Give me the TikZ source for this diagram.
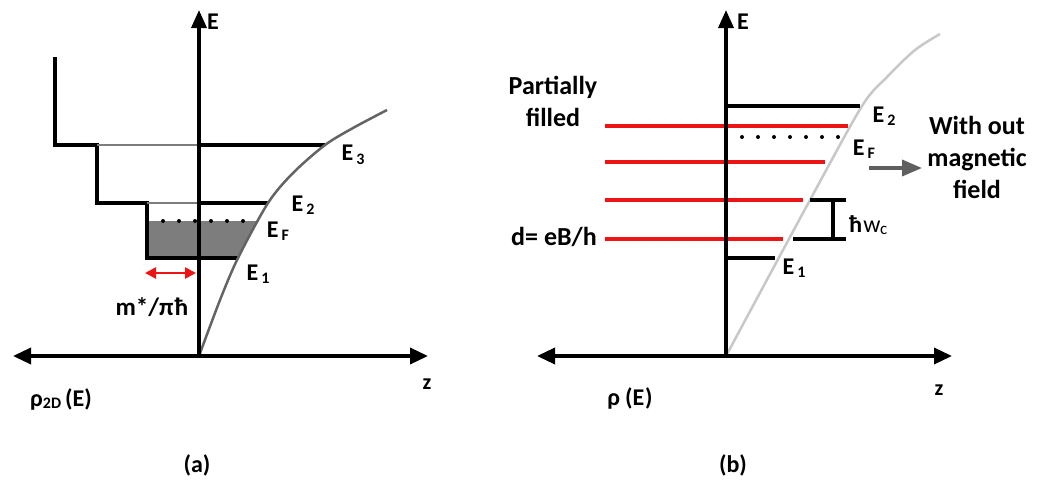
\documentclass[tikz,border=0pt]{standalone}
\usepackage{fontspec}
\setmainfont{Carlito}
\usetikzlibrary{arrows.meta}
\definecolor{curveA}{RGB}{100,100,100}
\definecolor{curveB}{RGB}{200,200,200}
\definecolor{fillgray}{RGB}{125,125,125}
\definecolor{stepgray}{RGB}{125,125,125}
\definecolor{redline}{RGB}{236,20,20}
\definecolor{arrowgray}{RGB}{95,95,95}
\newcommand\mysub[1]{\kern3pt{\fontsize{16}{16}\selectfont\raisebox{-0.45ex}{#1}}}
\tikzset{
  axisarrow/.style={line width=3.5pt,-{Triangle[length=18pt,width=15pt]}},
  axisboth/.style={line width=3.5pt,{Triangle[length=18pt,width=16pt]}-{Triangle[length=18pt,width=16pt]}},
  lvl/.style={line width=3.5pt,line join=miter},
  graylvl/.style={line width=2.8pt,stepgray},
  redlvl/.style={line width=3.5pt,redline},
  dotline/.style={line width=4pt,line cap=round,dash pattern=on 0pt off 16pt},
  lbl/.style={font=\bfseries\fontsize{24}{28}\selectfont,inner sep=0pt},
  txt/.style={font=\bfseries\fontsize{26}{32}\selectfont,align=center,inner sep=0pt},
}
\begin{document}
\begin{tikzpicture}[x=1pt,y=-1pt]
\useasboundingbox (0,0) rectangle (1041,480);
\fill[white] (0,0) rectangle (1041,480);

% ================= panel (a) =================
\coordinate (aO) at (199,356);
\coordinate (aTop) at (199,10);
\coordinate (aL) at (13,356);
\coordinate (aR) at (428,356);

% filled region
\fill[fillgray] (147,221) -- (258,221) -- (238,258) -- (147,258) -- cycle;

% staircase
\draw[lvl] (55,57) -- (55,145) -- (97,145) -- (97,203) -- (147,203) -- (147,258) -- (238,258);
\draw[graylvl] (97,145) -- (199,145);
\draw[lvl] (199,145) -- (325,145);
\draw[graylvl] (147,203) -- (199,203);
\draw[lvl] (199,203) -- (268,203);
\draw[dotline] (147,221) -- (247,221);

% curve
\draw[curveA,line width=2.5pt] plot[smooth] coordinates {(199,356) (220,300) (238,258) (268,203) (293,173) (325,145) (353,128) (387,110)};

% axes
\draw[axisarrow] (aO) -- (aTop);
\draw[axisboth] (aL) -- (aR);

% red double arrow
\coordinate (mL) at (145,273);
\coordinate (mR) at (196,273);
\draw[redline,line width=2.5pt,{Triangle[length=11pt,width=11pt]}-{Triangle[length=11pt,width=11pt]}] (mL) -- (mR);

% labels (a)
\node[lbl] (aE) at (213,22) {E};
\node[lbl] (aE3) at (353,155) {E\mysub{3}};
\node[lbl] (aE2) at (303,205) {E\mysub{2}};
\node[lbl] (aEF) at (278,231) {E\mysub{F}};
\node[lbl] (aE1) at (258,274) {E\mysub{1}};
\node[lbl,font=\bfseries\fontsize{25}{28}\selectfont] (aM) at (152,307) {m*/π\kern1ptħ};
\node[lbl,font=\bfseries\fontsize{22}{26}\selectfont] (az) at (427,384) {z};
\node[lbl] (arho) at (61,399) {ρ{\fontsize{16}{16}\selectfont\raisebox{-0.3ex}{2D}}\kern4pt(E)};
\node[lbl] (acap) at (197,465) {(a)};

% ================= panel (b) =================
\coordinate (bO) at (726,356);
\coordinate (bTop) at (726,10);
\coordinate (bL) at (537,356);
\coordinate (bR) at (952,356);

% curve
\draw[curveB,line width=2.5pt] plot[smooth] coordinates {(726,356) (810,200) (862,106) (887,77) (915,50) (940,34)};

% levels
\draw[lvl] (726,106) -- (860,106);
\draw[lvl] (726,258) -- (775,258);
\draw[redlvl] (605,126) -- (848,126);
\draw[redlvl] (605,162) -- (825,162);
\draw[redlvl] (605,200) -- (803,200);
\draw[redlvl] (605,239) -- (783,239);
\draw[dotline] (726,137) -- (845,137);

% bracket
\coordinate (brT) at (833,200);
\coordinate (brB) at (833,239);
\draw[lvl] (810,200) -- (846,200);
\draw[lvl] (793,239) -- (846,239);
\draw[lvl] (brT) -- (brB);

% axes
\draw[axisarrow] (bO) -- (bTop);
\draw[axisboth] (bL) -- (bR);

% gray arrow
\coordinate (gA) at (869,168);
\coordinate (gB) at (922,168);
\draw[arrowgray,line width=3.5pt,-{Triangle[length=20pt,width=16pt]}] (gA) -- (gB);

% labels (b)
\node[lbl] (bE) at (743,22) {E};
\node[lbl] (bE2) at (884,116) {E\mysub{2}};
\node[lbl] (bEF) at (864,149) {E\mysub{F}};
\node[lbl] (bE1) at (794,268) {E\mysub{1}};
\node[lbl,anchor=west] (bhw) at (849,225) {ħ{\mdseries\kern1pt w\kern-0.5pt{\fontsize{17}{17}\selectfont\raisebox{-0.3ex}{c}}}};
\node[txt] (bpf) at (553,101) {Partially\\filled};
\node[txt] (bd) at (554,237) {d= eB/h};
\node[txt] (bwo) at (977,157) {With out\\magnetic\\field};
\node[lbl,font=\bfseries\fontsize{22}{26}\selectfont] (bz) at (939,390) {z};
\node[lbl] (brho) at (630,398) {ρ\kern5pt(E\kern1pt)};
\node[lbl] (bcap) at (733,465) {(b)};
\end{tikzpicture}
\end{document}
